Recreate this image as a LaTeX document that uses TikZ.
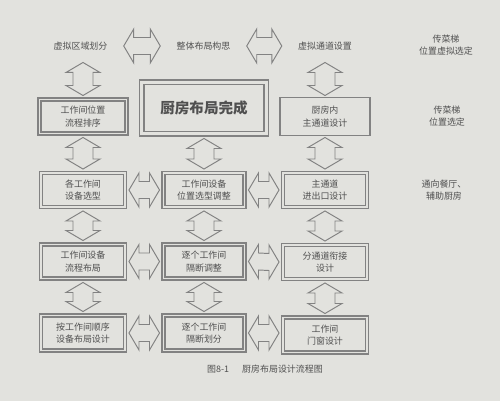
\documentclass[tikz,border=0pt]{standalone}
\usepackage{fontspec}
\setmainfont{Noto Sans CJK SC}
\usetikzlibrary{calc}
\definecolor{paper}{RGB}{226,226,222}
\definecolor{ink}{RGB}{80,80,80}
\definecolor{edge}{RGB}{130,130,130}
\begin{document}
\begin{tikzpicture}[x=0.02cm,y=-0.02cm,
  every node/.style={text=ink, font=\fontsize{5.1}{7}\selectfont, align=center},
  dbox/.style={draw=edge, line width=0.6pt,
    minimum width=1.74cm, minimum height=0.74cm, inner sep=0pt, outer sep=0.05cm,
    path picture={\draw[edge, line width=0.6pt]
      ([shift={(#1,-#1)}]path picture bounding box.north west) rectangle
      ([shift={(-#1,#1)}]path picture bounding box.south east);}},
  dbox/.default=0.06cm,
  sbox/.style={draw=edge, line width=0.65pt,
    minimum width=1.8cm, minimum height=0.76cm, inner sep=0pt, outer sep=0.04cm},
  lbl/.style={inner xsep=0.32cm, inner ysep=0.24cm},
  varrow/.style={draw=edge, fill=paper, line width=0.55pt, line join=miter,
    to path={($(\tikztostart)$) -- ($(\tikztostart)+(-17,10)$) -- ($(\tikztostart)+(-10,10)$)
      -- ($(\tikztotarget)+(-10,-10)$) -- ($(\tikztotarget)+(-17,-10)$) -- ($(\tikztotarget)$)
      -- ($(\tikztotarget)+(17,-10)$) -- ($(\tikztotarget)+(10,-10)$)
      -- ($(\tikztostart)+(10,10)$) -- ($(\tikztostart)+(17,10)$) -- cycle}},
  harrow/.style={draw=edge, fill=paper, line width=0.55pt, line join=miter,
    to path={($(\tikztostart)$) -- ($(\tikztostart)+(10,-17)$) -- ($(\tikztostart)+(10,-8.5)$)
      -- ($(\tikztotarget)+(-10,-8.5)$) -- ($(\tikztotarget)+(-10,-17)$) -- ($(\tikztotarget)$)
      -- ($(\tikztotarget)+(-10,17)$) -- ($(\tikztotarget)+(-10,8.5)$)
      -- ($(\tikztostart)+(10,8.5)$) -- ($(\tikztostart)+(10,17)$) -- cycle}}]
\fill[paper] (0,0) rectangle (500,401);
\useasboundingbox (0,0) rectangle (500,401);

% top row texts
\node[lbl] (t1) at (80.5,46) {虚拟区域划分};
\node[lbl] (t2) at (203.5,46) {整体布局构思};
\node[lbl] (t3) at (325,46) {虚拟通道设置};
% right notes
\node (r1) at (446,45) {传菜梯\\位置虚拟选定};
\node (r2) at (447,116) {传菜梯\\位置选定};
\node (r3) at (444,190) {通向餐厅、\\辅助厨房};

% row 1
\node[dbox, minimum width=1.8cm] (b11) at (83,116.5) {工作间位置\\流程排序};
\node[dbox=0.09cm, minimum width=2.58cm, minimum height=1.12cm,
  font=\fontsize{8.3}{10}\selectfont\bfseries] (big) at (204,108) {厨房布局完成};
\node[sbox] (b13) at (325,116.5) {厨房内\\主通道设计};
% row 2
\node[dbox] (b21) at (83,190) {各工作间\\设备选型};
\node[dbox, minimum width=1.68cm] (b22) at (204,190) {工作间设备\\位置选型调整};
\node[dbox] (b23) at (325,190) {主通道\\进出口设计};
% row 3
\node[dbox] (b31) at (83,261.5) {工作间设备\\流程布局};
\node[dbox, minimum width=1.68cm] (b32) at (204,261.5) {逐个工作间\\隔断调整};
\node[dbox] (b33) at (325,262) {分通道衔接\\设计};
% row 4
\node[dbox, minimum height=0.76cm] (b41) at (83,333) {按工作间顺序\\设备布局设计};
\node[dbox, minimum width=1.68cm, minimum height=0.76cm] (b42) at (204,333) {逐个工作间\\隔断划分};
\node[dbox, minimum height=0.76cm] (b43) at (325,335) {工作间\\门窗设计};

% caption
\node (cap) at (265,369) {图8-1\hspace{0.26cm}厨房布局设计流程图};

% horizontal arrows
\draw[harrow] (t1.east) to (t2.west);
\draw[harrow] (t2.east) to (t3.west);
\draw[harrow] (b21.east) to (b22.west);
\draw[harrow] (b22.east) to (b23.west);
\draw[harrow] (b31.east) to (b32.west);
\draw[harrow] (b32.east) to (b33.west);
\draw[harrow] (b41.east) to (b42.west |- b41.east);
\draw[harrow] (b42.east) to (b43.west |- b42.east);

% vertical arrows
\draw[varrow] (b11.north |- t1.south) to (b11.north);
\draw[varrow] (b13.north |- t3.south) to (b13.north);
\draw[varrow] (b11.south) to (b21.north);
\draw[varrow] (b21.south) to (b31.north);
\draw[varrow] (b31.south) to (b41.north);
\draw[varrow] (big.south) to (b22.north);
\draw[varrow] (b22.south) to (b32.north);
\draw[varrow] (b32.south) to (b42.north);
\draw[varrow] (b13.south) to (b23.north);
\draw[varrow] (b23.south) to (b33.north);
\draw[varrow] (b33.south) to (b43.north);
\end{tikzpicture}
\end{document}
